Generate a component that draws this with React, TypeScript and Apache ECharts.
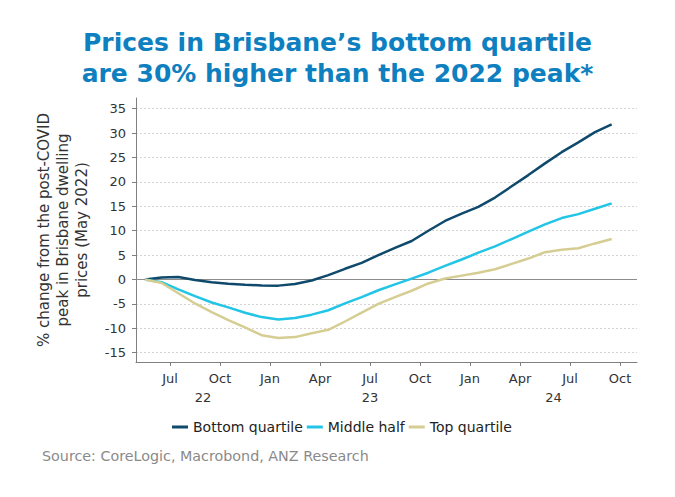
import React, { useEffect, useRef } from "react";
import * as echarts from "echarts";

const months = [
  "2022-05", "2022-06", "2022-07", "2022-08", "2022-09", "2022-10", "2022-11", "2022-12",
  "2023-01", "2023-02", "2023-03", "2023-04", "2023-05", "2023-06", "2023-07", "2023-08",
  "2023-09", "2023-10", "2023-11", "2023-12", "2024-01", "2024-02", "2024-03", "2024-04",
  "2024-05", "2024-06", "2024-07", "2024-08", "2024-09",
];
const bottomQuartile = [
  0, 0.4, 0.5, -0.1, -0.55, -0.85, -1.05, -1.2, -1.25, -0.9, -0.2, 0.9, 2.2, 3.4, 5.0,
  6.5, 7.9, 10.0, 12.0, 13.5, 14.9, 16.8, 19.1, 21.4, 23.8, 26.1, 28.1, 30.2, 31.8,
];
const middleHalf = [
  0, -0.55, -2.0, -3.4, -4.7, -5.7, -6.8, -7.7, -8.2, -7.9, -7.2, -6.3, -4.9, -3.6, -2.2,
  -1.0, 0.2, 1.4, 2.8, 4.1, 5.5, 6.8, 8.3, 9.8, 11.3, 12.6, 13.4, 14.5, 15.6,
];
const topQuartile = [
  0, -0.7, -2.8, -4.9, -6.7, -8.3, -9.8, -11.4, -12.0, -11.8, -11.0, -10.3, -8.6, -6.8, -5.0,
  -3.6, -2.3, -0.8, 0.2, 0.8, 1.4, 2.1, 3.2, 4.3, 5.6, 6.1, 6.4, 7.4, 8.3,
];
const yTicks = [-15, -10, -5, 0, 5, 10, 15, 20, 25, 30, 35];
const xTickMonths = [
  "2022-07", "2022-10", "2023-01", "2023-04", "2023-07", "2023-10",
  "2024-01", "2024-04", "2024-07", "2024-10",
];
const years = [2022, 2023, 2024];
const monthNames = ["Jan", "Feb", "Mar", "Apr", "May", "Jun", "Jul", "Aug", "Sep", "Oct", "Nov", "Dec"];
const seriesNames = ["Bottom quartile", "Middle half", "Top quartile"];
const colors = ["#0f4a6c", "#22c5e6", "#d6cd93"];
const titleText = "Prices in Brisbane’s bottom quartile\nare 30% higher than the 2022 peak*";
const sourceText = "Source: CoreLogic, Macrobond, ANZ Research";
const yName = "% change from the post-COVID\npeak in Brisbane dwelling\nprices (May 2022)";

const monthNum = (s: string) => {
  const [y, m] = s.split("-").map(Number);
  return (y - 2022) * 12 + (m - 1);
};

const X_MIN = 3.96;
const X_MAX = 34.02;
const FONT = "'DejaVu Sans', Verdana, sans-serif";

export default function App() {
  const ref = useRef<HTMLDivElement>(null);
  useEffect(() => {
    if (!ref.current) return;
    const chart = echarts.init(ref.current, undefined, { renderer: "svg" });
    const xs = months.map((m) => monthNum(m) + 0.5);
    const mk = (vals: number[]) => vals.map((v, i) => [xs[i], v]);
    const yearCenters = years.map((y) => {
      const a = Math.max((y - 2022) * 12, X_MIN);
      const b = Math.min((y - 2021) * 12, X_MAX);
      return (a + b) / 2;
    });
    const allSeries = [bottomQuartile, middleHalf, topQuartile];
    chart.setOption({
      animation: false,
      textStyle: { fontFamily: FONT },
      title: [
        {
          text: titleText,
          left: "center",
          top: 22,
          textStyle: {
            fontFamily: FONT,
            fontSize: 25,
            fontWeight: "bold",
            color: "#0e80c0",
            lineHeight: 31,
          },
        },
        {
          text: sourceText,
          left: 37,
          top: 444,
          textStyle: { fontFamily: FONT, fontSize: 14.3, fontWeight: "normal", color: "#8a8a8a" },
        },
      ],
      legend: {
        left: 172,
        top: 420,
        padding: 0,
        icon: "rect",
        itemWidth: 16,
        itemHeight: 3,
        itemGap: 4,
        data: seriesNames,
        textStyle: { fontFamily: FONT, fontSize: 14, color: "#222" },
      },
      grid: { left: 136, right: 38, top: 98, bottom: 135, containLabel: false },
      xAxis: [
        {
          type: "value",
          min: X_MIN,
          max: X_MAX,
          axisLine: { show: true, onZero: false, lineStyle: { color: "#808080", width: 1 } },
          axisTick: {
            show: true,
            length: 4,
            customValues: xTickMonths.map(monthNum),
            lineStyle: { color: "#808080" },
          },
          axisLabel: {
            customValues: xTickMonths.map(monthNum),
            formatter: (v: number) => monthNames[((Math.round(v) % 12) + 12) % 12],
            fontFamily: FONT,
            fontSize: 13,
            color: "#333",
            margin: 10,
          },
          splitLine: { show: false },
        },
        {
          type: "value",
          min: X_MIN,
          max: X_MAX,
          position: "bottom",
          axisLine: { show: false },
          axisTick: { show: false },
          axisLabel: {
            customValues: yearCenters,
            formatter: (v: number) => {
              const idx = yearCenters.findIndex((c) => Math.abs(c - v) < 1e-6);
              return idx >= 0 ? String(years[idx]).slice(2) : "";
            },
            fontFamily: FONT,
            fontSize: 13,
            color: "#333",
            margin: 29,
          },
          splitLine: { show: false },
        },
      ],
      yAxis: {
        type: "value",
        min: -16.9,
        max: 37.2,
        name: yName,
        nameLocation: "middle",
        nameGap: 45,
        nameRotate: 90,
        nameTextStyle: { fontFamily: FONT, fontSize: 15, color: "#333", lineHeight: 19 },
        axisLine: { show: true, lineStyle: { color: "#808080", width: 1 } },
        axisTick: { show: true, length: 4, customValues: yTicks, lineStyle: { color: "#808080" } },
        axisLabel: {
          customValues: yTicks,
          fontFamily: FONT,
          fontSize: 13,
          color: "#333",
          margin: 10,
        },
        splitLine: {
          show: true,
          lineStyle: { color: "#d4d4d4", width: 1, type: [2, 2] },
        },
      },
      series: allSeries.map((vals, i) => ({
        name: seriesNames[i],
        type: "line",
        data: mk(vals),
        showSymbol: false,
        symbol: "none",
        smooth: false,
        lineStyle: { color: colors[i], width: 2.5 },
        itemStyle: { color: colors[i] },
        z: 3 + i,
        markLine:
          i === 0
            ? {
                silent: true,
                symbol: "none",
                label: { show: false },
                lineStyle: { color: "#8c8c8c", width: 1, type: "solid" },
                data: [{ yAxis: 0 }],
                z: 1,
              }
            : undefined,
      })),
    });
    return () => chart.dispose();
  }, []);
  return (
    <div
      ref={ref}
      style={{ position: "fixed", left: 0, top: 0, width: 675, height: 497, background: "#fff" }}
    />
  );
}
